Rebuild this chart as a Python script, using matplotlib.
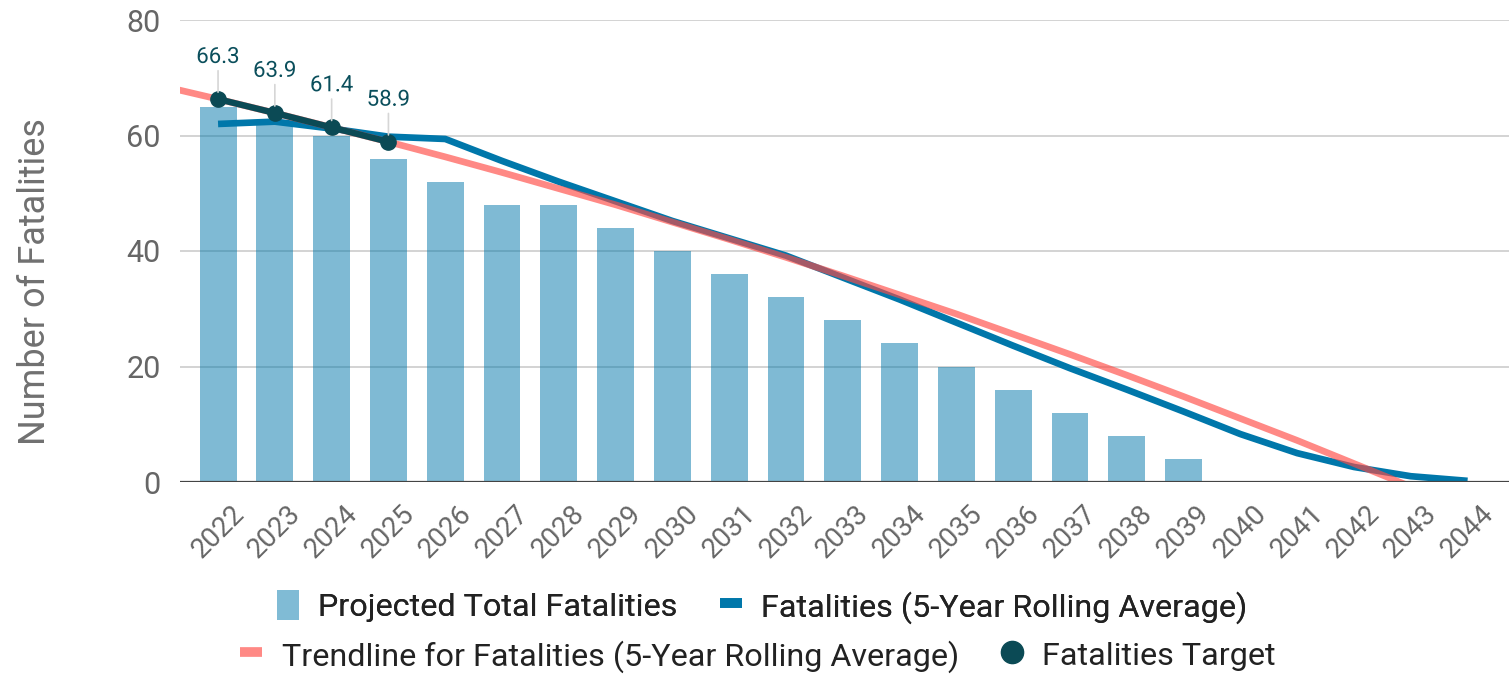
import matplotlib
matplotlib.use("Agg")
import matplotlib.pyplot as plt
import matplotlib.patheffects as pe
from matplotlib.lines import Line2D
from matplotlib.patches import Patch

plt.rcParams['font.family'] = ['Roboto', 'DejaVu Sans']

# ---- data ----
years = list(range(2022, 2045))
projected_total = [65, 62, 60, 56, 52, 48, 48, 44, 40, 36, 32, 28, 24, 20, 16, 12, 8, 4,
                   0, 0, 0, 0, 0]
rolling_avg = [62.0, 62.4, 61.2, 59.8, 59.4, 55.6, 52.0, 48.6, 45.2, 42.2, 39.2, 35.4,
               31.6, 27.6, 23.6, 19.7, 16.0, 12.2, 8.3, 5.0, 2.6, 1.0, 0.2]
trend_years = list(range(2021, 2044))
trend_values = [68.6, 66.3, 63.9, 61.4, 58.9, 56.3, 53.6, 50.8, 48.0, 45.0, 42.0, 38.9,
                35.7, 32.4, 29.1, 25.6, 22.1, 18.5, 14.8, 11.0, 7.2, 3.2, -0.8]
target_years = [2022, 2023, 2024, 2025]
target_values = [66.3, 63.9, 61.4, 58.9]
y_ticks = [0, 20, 40, 60, 80]

# ---- colours ----
c_blue = '#0077aa'
c_bar_swatch = '#80bbd5'
c_trend = '#ff4a44'
c_target = '#0b4a55'
c_label = '#0b4f5c'
c_tick = '#666666'

W, H = 1509, 675
fig = plt.figure(figsize=(W / 100, H / 100), dpi=100)
ax = fig.add_axes([180 / W, 1 - 482 / H, 1 - 180 / W, 462 / H])

ax.set_xlim(2021.33, 2044.73)
ax.set_ylim(0, 80)

# grid
for v in y_ticks[1:]:
    ax.axhline(v, color='#cccccc', lw=1.2, zorder=1)
ax.axhline(0, color='#444444', lw=1.6, zorder=6)

# bars
ax.bar(years, projected_total, width=0.65, color=c_blue, alpha=0.5, zorder=2,
       linewidth=0)

# rolling average
ax.plot(years, rolling_avg, color=c_blue, lw=4.8, zorder=3, solid_joinstyle='round',
        solid_capstyle='butt')

# trendline
ax.plot(trend_years, trend_values, color=c_trend, lw=4.8, alpha=0.65, zorder=4,
        solid_capstyle='butt')

# target
ax.plot(target_years, target_values, color=c_target, lw=4.6, marker='o', ms=11,
        zorder=7, solid_capstyle='round')

for x, v in zip(target_years, target_values):
    ax.annotate(f"{v:.1f}", xy=(x, v), xytext=(0, 30), textcoords='offset points',
                ha='center', va='center', fontsize=16, color=c_label, zorder=8,
                path_effects=[pe.withStroke(linewidth=4, foreground='white')],
                arrowprops=dict(arrowstyle='-', color='#d6d6d6', lw=1.2,
                                shrinkA=0, shrinkB=5))

# axes styling
for s in ax.spines.values():
    s.set_visible(False)
ax.set_yticks(y_ticks)
ax.set_yticklabels([str(v) for v in y_ticks], fontsize=22, color=c_tick)
ax.set_xticks(years)
ax.set_xticklabels([str(y) for y in years], fontsize=20, color=c_tick,
                   rotation=45, ha='center', va='top')
ax.tick_params(axis='y', length=0, pad=14)
ax.tick_params(axis='x', length=0, pad=13)
ax.set_ylabel("Number of Fatalities", fontsize=26, color='#707070')
ax.yaxis.set_label_coords(-(180 - 53) / (W - 180), 1 - (282 - 20) / 462)

# legend (two centred rows)
h_bar = Patch(facecolor=c_bar_swatch, edgecolor='none')
h_roll = Line2D([], [], color=c_blue, lw=7, solid_capstyle='butt')
h_trend = Line2D([], [], color=c_trend, alpha=0.65, lw=7, solid_capstyle='butt')
h_target = Line2D([], [], color=c_target, marker='o', ms=16, lw=0)

leg_kw = dict(loc='center', ncol=2, frameon=False, fontsize=23.3, handlelength=0.68,
              handleheight=1.05, handletextpad=0.6, columnspacing=1.3,
              labelcolor='#222222')
leg1 = fig.legend([h_bar, h_roll],
                  ["Projected Total Fatalities", "Fatalities (5-Year Rolling Average)"],
                  bbox_to_anchor=(762 / W, 1 - 607 / H), **leg_kw)
fig.add_artist(leg1)
fig.legend([h_trend, h_target],
           ["Trendline for Fatalities (5-Year Rolling Average)", "Fatalities Target"],
           bbox_to_anchor=(758 / W, 1 - 656 / H), **leg_kw)

fig.savefig("out.png", dpi=100)
